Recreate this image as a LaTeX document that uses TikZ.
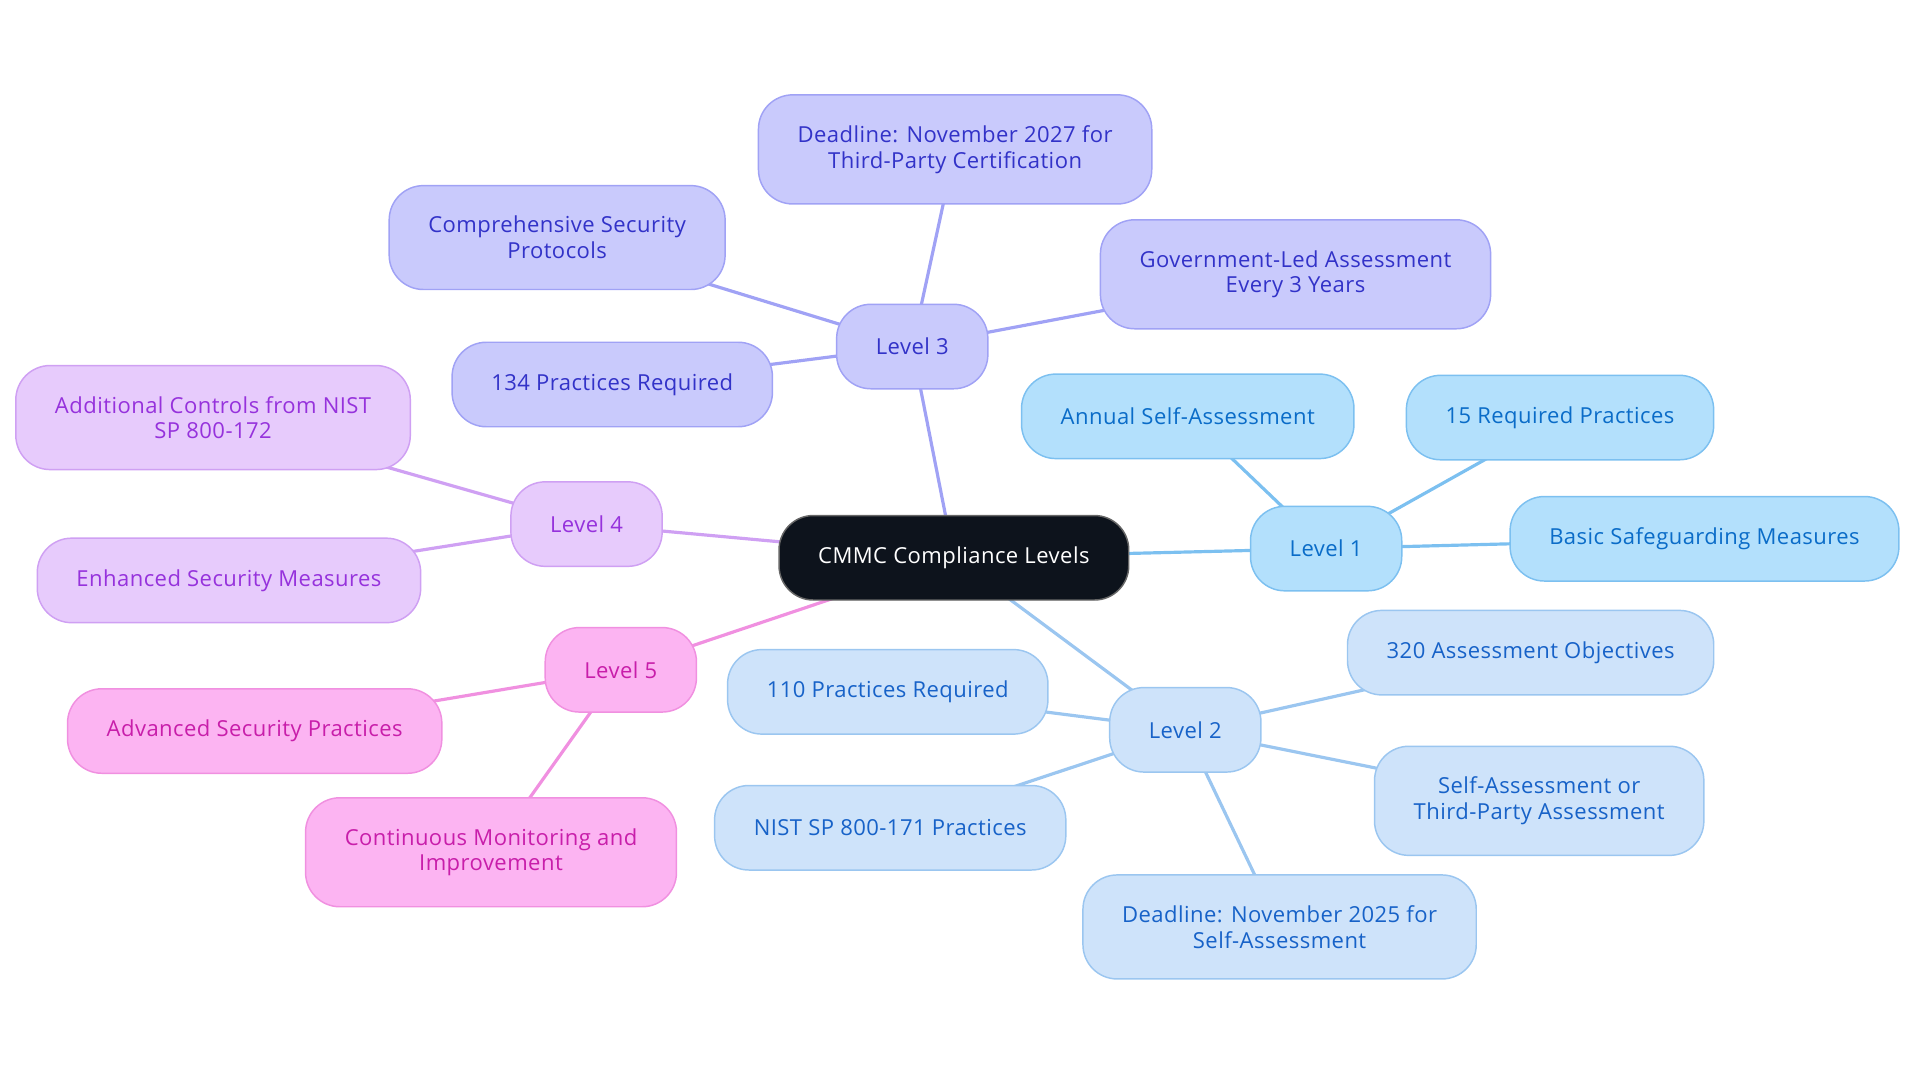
\documentclass[tikz,border=0pt]{standalone}
\usepackage{fontspec}
\setmainfont[LetterSpace=2.0]{Open Sans}
\usepackage{xcolor}
\usetikzlibrary{positioning,backgrounds}
\definecolor{rootfill}{RGB}{13,19,28}
\definecolor{onefill}{RGB}{179,224,252}
\definecolor{oneline}{RGB}{124,192,240}
\definecolor{onetext}{RGB}{10,108,200}
\definecolor{twofill}{RGB}{206,227,250}
\definecolor{twoline}{RGB}{155,198,240}
\definecolor{twotext}{RGB}{23,98,200}
\definecolor{threefill}{RGB}{201,202,252}
\definecolor{threeline}{RGB}{160,162,245}
\definecolor{threetext}{RGB}{50,50,200}
\definecolor{fourfill}{RGB}{231,203,252}
\definecolor{fourline}{RGB}{207,160,243}
\definecolor{fourtext}{RGB}{150,50,220}
\definecolor{fivefill}{RGB}{252,180,242}
\definecolor{fiveline}{RGB}{240,144,224}
\definecolor{fivetext}{RGB}{200,30,170}
\tikzset{
  box/.style={rounded corners=28pt, inner xsep=32pt, inner ysep=25pt,
    minimum height=69pt, align=center, line width=1.2pt,
    font=\fontsize{18}{21}\selectfont},
  rootbox/.style={box, draw=black!60, fill=rootfill, text=white},
  one/.style={box, draw=oneline, fill=onefill, text=onetext},
  two/.style={box, draw=twoline, fill=twofill, text=twotext},
  three/.style={box, draw=threeline, fill=threefill, text=threetext},
  four/.style={box, draw=fourline, fill=fourfill, text=fourtext},
  five/.style={box, draw=fiveline, fill=fivefill, text=fivetext},
  link/.style={line width=2.6pt}
}
\begin{document}
\begin{tikzpicture}[x=1pt,y=1pt,on grid]
\useasboundingbox (0,0) rectangle (1568,-884);
% nodes
\node[rootbox] (root) at (779,-455.5) {CMMC Compliance Levels};
\node[one, above right=7.5pt and 304pt of root] (lone) {Level 1};
 \node[one, above left=108pt and 113pt of lone] (annual) {Annual Self-Assessment};
 \node[one, above right=107pt and 191pt of lone] (fifteen) {15 Required Practices};
 \node[one, above right=8pt and 309pt of lone] (basic) {Basic Safeguarding Measures};
\node[two, below right=140.5pt and 189pt of root] (ltwo) {Level 2};
 \node[two, above left=31pt and 243pt of ltwo] (prac110) {110 Practices Required};
 \node[two, below left=80pt and 241pt of ltwo] (nist) {NIST SP 800-171 Practices};
 \node[two, above right=63pt and 282pt of ltwo] (obj320) {320 Assessment Objectives};
 \node[two, below right=58pt and 289pt of ltwo] (selfthird) {Self-Assessment or\\Third-Party Assessment};
 \node[two, below right=161pt and 77pt of ltwo] (dl2025) {Deadline: November 2025 for\\Self-Assessment};
\node[three, above left=172.5pt and 34pt of root] (lthree) {Level 3};
 \node[three, above right=161pt and 35pt of lthree] (dl2027) {Deadline: November 2027 for\\Third-Party Certification};
 \node[three, above left=89pt and 290pt of lthree] (comp) {Comprehensive Security\\Protocols};
 \node[three, above right=59pt and 313pt of lthree] (gov) {Government-Led Assessment\\Every 3 Years};
 \node[three, below left=31pt and 245pt of lthree] (prac134) {134 Practices Required};
\node[four, above left=27.5pt and 300pt of root] (lfour) {Level 4};
 \node[four, above left=87pt and 305pt of lfour] (addl) {Additional Controls from NIST\\SP 800-172};
 \node[four, below left=46pt and 292pt of lfour] (enh) {Enhanced Security Measures};
\node[five, below left=91.5pt and 272pt of root] (lfive) {Level 5};
 \node[five, below left=50pt and 299pt of lfive] (adv) {Advanced Security Practices};
 \node[five, below left=149pt and 106pt of lfive] (cont) {Continuous Monitoring and\\Improvement};

% edges
\begin{scope}[on background layer]
 \draw[link, oneline] (root.center) -- (lone.center);
 \foreach \n in {annual,fifteen,basic}
  \draw[link, oneline] (lone.center) -- (\n.center);
 \draw[link, twoline] (root.center) -- (ltwo.center);
 \foreach \n in {prac110,nist,obj320,selfthird,dl2025}
  \draw[link, twoline] (ltwo.center) -- (\n.center);
 \draw[link, threeline] (root.center) -- (lthree.center);
 \foreach \n in {dl2027,comp,gov,prac134}
  \draw[link, threeline] (lthree.center) -- (\n.center);
 \draw[link, fourline] (root.center) -- (lfour.center);
 \foreach \n in {addl,enh}
  \draw[link, fourline] (lfour.center) -- (\n.center);
 \draw[link, fiveline] (root.center) -- (lfive.center);
 \foreach \n in {adv,cont}
  \draw[link, fiveline] (lfive.center) -- (\n.center);
\end{scope}
\end{tikzpicture}
\end{document}
